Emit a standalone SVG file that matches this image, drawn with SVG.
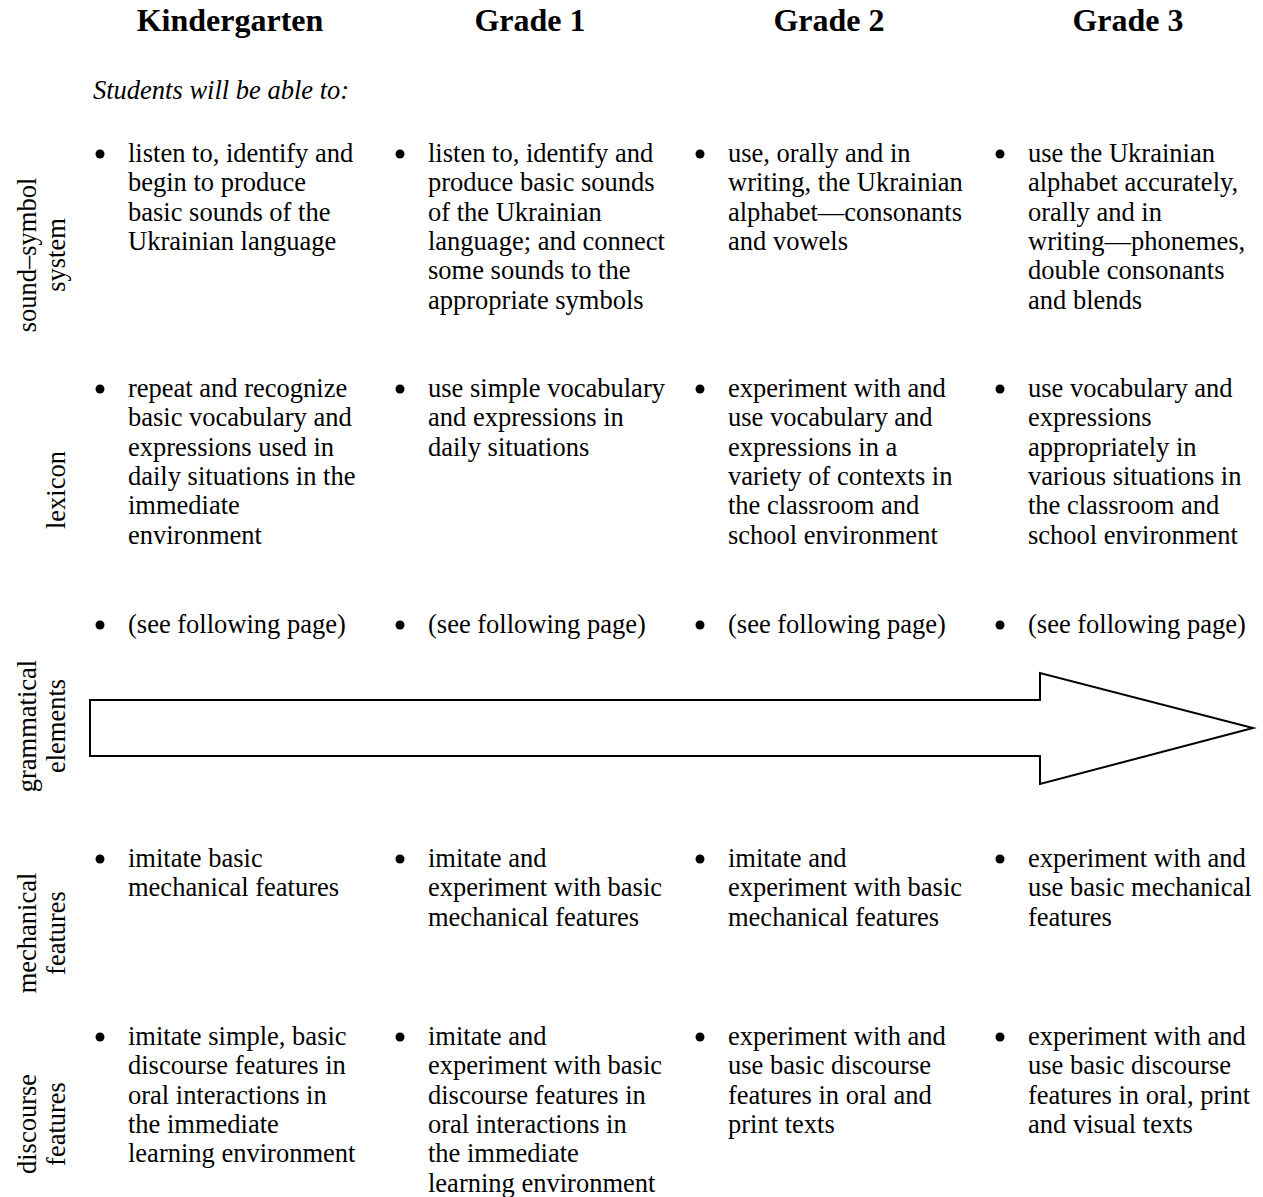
<svg xmlns="http://www.w3.org/2000/svg" width="1263" height="1197" viewBox="0 0 1263 1197">
<style>
text{font-family:"Liberation Serif","Times New Roman",serif;fill:#000}
.h{font-size:32px;font-weight:bold;text-anchor:middle}
.b{font-size:26.5px}
.i{font-size:26.5px;font-style:italic}
.s{font-size:26.5px;text-anchor:middle}
.dot{fill:#000}
.arrow{fill:#fff;stroke:#000;stroke-width:2}
</style>
<rect width="1263" height="1197" fill="#fff"/>
<g id="headers">
<text class="h" x="230" y="31">Kindergarten</text>
<text class="h" x="530" y="31">Grade 1</text>
<text class="h" x="829" y="31">Grade 2</text>
<text class="h" x="1128" y="31">Grade 3</text>
<text class="i" x="93" y="99">Students will be able to:</text>
</g>
<g id="row-labels">
<g id="label-sound"><text class="s" transform="translate(36,255) rotate(-90)"><tspan x="0" y="0">sound–symbol</tspan><tspan x="0" y="29">system</tspan></text></g>
<g id="label-lexicon"><text class="s" transform="translate(65,490) rotate(-90)">lexicon</text></g>
<g id="label-grammar"><text class="s" transform="translate(36,726) rotate(-90)"><tspan x="0" y="0">grammatical</tspan><tspan x="0" y="29">elements</tspan></text></g>
<g id="label-mechanical"><text class="s" transform="translate(36,933) rotate(-90)"><tspan x="0" y="0">mechanical</tspan><tspan x="0" y="29">features</tspan></text></g>
<g id="label-discourse"><text class="s" transform="translate(36,1124) rotate(-90)"><tspan x="0" y="0">discourse</tspan><tspan x="0" y="29">features</tspan></text></g>
</g>
<g id="connectors">
<polygon class="arrow" points="90,700 1040,700 1040,673 1253,728 1040,784 1040,756 90,756"/>
</g>
<!-- Row 1 -->
<g id="r1-k"><circle class="dot" cx="100" cy="154" r="4.5"/><text class="b" y="162"><tspan x="128">listen to, identify and</tspan><tspan x="128" dy="29.3">begin to produce</tspan><tspan x="128" dy="29.3">basic sounds of the</tspan><tspan x="128" dy="29.3">Ukrainian language</tspan></text></g>
<g id="r1-g1"><circle class="dot" cx="400" cy="154" r="4.5"/><text class="b" y="162"><tspan x="428">listen to, identify and</tspan><tspan x="428" dy="29.3">produce basic sounds</tspan><tspan x="428" dy="29.3">of the Ukrainian</tspan><tspan x="428" dy="29.3">language; and connect</tspan><tspan x="428" dy="29.3">some sounds to the</tspan><tspan x="428" dy="29.3">appropriate symbols</tspan></text></g>
<g id="r1-g2"><circle class="dot" cx="700" cy="154" r="4.5"/><text class="b" y="162"><tspan x="728">use, orally and in</tspan><tspan x="728" dy="29.3">writing, the Ukrainian</tspan><tspan x="728" dy="29.3">alphabet—consonants</tspan><tspan x="728" dy="29.3">and vowels</tspan></text></g>
<g id="r1-g3"><circle class="dot" cx="1000" cy="154" r="4.5"/><text class="b" y="162"><tspan x="1028">use the Ukrainian</tspan><tspan x="1028" dy="29.3">alphabet accurately,</tspan><tspan x="1028" dy="29.3">orally and in</tspan><tspan x="1028" dy="29.3">writing—phonemes,</tspan><tspan x="1028" dy="29.3">double consonants</tspan><tspan x="1028" dy="29.3">and blends</tspan></text></g>
<!-- Row 2 -->
<g id="r2-k"><circle class="dot" cx="100" cy="389" r="4.5"/><text class="b" y="397"><tspan x="128">repeat and recognize</tspan><tspan x="128" dy="29.3">basic vocabulary and</tspan><tspan x="128" dy="29.3">expressions used in</tspan><tspan x="128" dy="29.3">daily situations in the</tspan><tspan x="128" dy="29.3">immediate</tspan><tspan x="128" dy="29.3">environment</tspan></text></g>
<g id="r2-g1"><circle class="dot" cx="400" cy="389" r="4.5"/><text class="b" y="397"><tspan x="428">use simple vocabulary</tspan><tspan x="428" dy="29.3">and expressions in</tspan><tspan x="428" dy="29.3">daily situations</tspan></text></g>
<g id="r2-g2"><circle class="dot" cx="700" cy="389" r="4.5"/><text class="b" y="397"><tspan x="728">experiment with and</tspan><tspan x="728" dy="29.3">use vocabulary and</tspan><tspan x="728" dy="29.3">expressions in a</tspan><tspan x="728" dy="29.3">variety of contexts in</tspan><tspan x="728" dy="29.3">the classroom and</tspan><tspan x="728" dy="29.3">school environment</tspan></text></g>
<g id="r2-g3"><circle class="dot" cx="1000" cy="389" r="4.5"/><text class="b" y="397"><tspan x="1028">use vocabulary and</tspan><tspan x="1028" dy="29.3">expressions</tspan><tspan x="1028" dy="29.3">appropriately in</tspan><tspan x="1028" dy="29.3">various situations in</tspan><tspan x="1028" dy="29.3">the classroom and</tspan><tspan x="1028" dy="29.3">school environment</tspan></text></g>
<!-- Row 3 -->
<g id="r3-k"><circle class="dot" cx="100" cy="625" r="4.5"/><text class="b" x="128" y="633">(see following page)</text></g>
<g id="r3-g1"><circle class="dot" cx="400" cy="625" r="4.5"/><text class="b" x="428" y="633">(see following page)</text></g>
<g id="r3-g2"><circle class="dot" cx="700" cy="625" r="4.5"/><text class="b" x="728" y="633">(see following page)</text></g>
<g id="r3-g3"><circle class="dot" cx="1000" cy="625" r="4.5"/><text class="b" x="1028" y="633">(see following page)</text></g>
<!-- Row 4 -->
<g id="r4-k"><circle class="dot" cx="100" cy="859" r="4.5"/><text class="b" y="867"><tspan x="128">imitate basic</tspan><tspan x="128" dy="29.3">mechanical features</tspan></text></g>
<g id="r4-g1"><circle class="dot" cx="400" cy="859" r="4.5"/><text class="b" y="867"><tspan x="428">imitate and</tspan><tspan x="428" dy="29.3">experiment with basic</tspan><tspan x="428" dy="29.3">mechanical features</tspan></text></g>
<g id="r4-g2"><circle class="dot" cx="700" cy="859" r="4.5"/><text class="b" y="867"><tspan x="728">imitate and</tspan><tspan x="728" dy="29.3">experiment with basic</tspan><tspan x="728" dy="29.3">mechanical features</tspan></text></g>
<g id="r4-g3"><circle class="dot" cx="1000" cy="859" r="4.5"/><text class="b" y="867"><tspan x="1028">experiment with and</tspan><tspan x="1028" dy="29.3">use basic mechanical</tspan><tspan x="1028" dy="29.3">features</tspan></text></g>
<!-- Row 5 -->
<g id="r5-k"><circle class="dot" cx="100" cy="1037" r="4.5"/><text class="b" y="1045"><tspan x="128">imitate simple, basic</tspan><tspan x="128" dy="29.3">discourse features in</tspan><tspan x="128" dy="29.3">oral interactions in</tspan><tspan x="128" dy="29.3">the immediate</tspan><tspan x="128" dy="29.3">learning environment</tspan></text></g>
<g id="r5-g1"><circle class="dot" cx="400" cy="1037" r="4.5"/><text class="b" y="1045"><tspan x="428">imitate and</tspan><tspan x="428" dy="29.3">experiment with basic</tspan><tspan x="428" dy="29.3">discourse features in</tspan><tspan x="428" dy="29.3">oral interactions in</tspan><tspan x="428" dy="29.3">the immediate</tspan><tspan x="428" dy="29.3">learning environment</tspan></text></g>
<g id="r5-g2"><circle class="dot" cx="700" cy="1037" r="4.5"/><text class="b" y="1045"><tspan x="728">experiment with and</tspan><tspan x="728" dy="29.3">use basic discourse</tspan><tspan x="728" dy="29.3">features in oral and</tspan><tspan x="728" dy="29.3">print texts</tspan></text></g>
<g id="r5-g3"><circle class="dot" cx="1000" cy="1037" r="4.5"/><text class="b" y="1045"><tspan x="1028">experiment with and</tspan><tspan x="1028" dy="29.3">use basic discourse</tspan><tspan x="1028" dy="29.3">features in oral, print</tspan><tspan x="1028" dy="29.3">and visual texts</tspan></text></g>
</svg>
